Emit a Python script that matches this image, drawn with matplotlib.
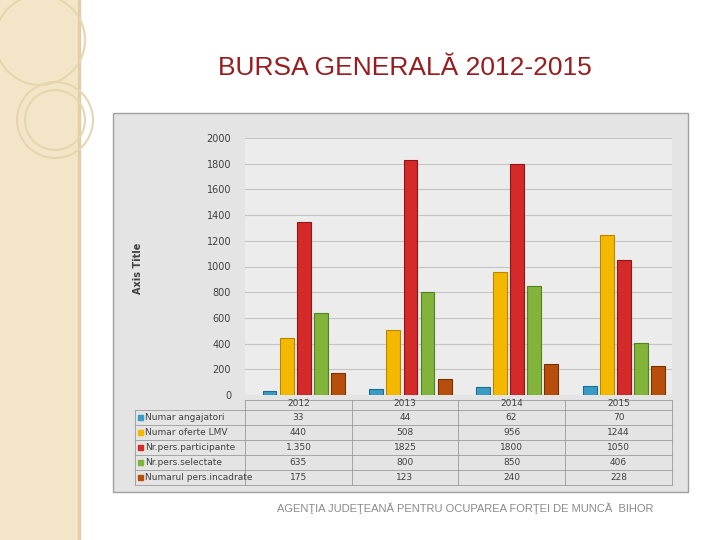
import matplotlib
matplotlib.use("Agg")
import matplotlib.pyplot as plt
from matplotlib.patches import Rectangle, Circle
import numpy as np

years = ["2012", "2013", "2014", "2015"]
series_names = ["Numar angajatori", "Numar oferte LMV", "Nr.pers.participante",
                "Nr.pers.selectate", "Numarul pers.incadrate"]
angajatori = [33, 44, 62, 70]
oferte = [440, 508, 956, 1244]
participante = [1350, 1825, 1800, 1050]
selectate = [635, 800, 850, 406]
incadrate = [175, 123, 240, 228]
table_text = [["33", "44", "62", "70"],
              ["440", "508", "956", "1244"],
              ["1.350", "1825", "1800", "1050"],
              ["635", "800", "850", "406"],
              ["175", "123", "240", "228"]]
series = [angajatori, oferte, participante, selectate, incadrate]
colors = ["#3a9cc4", "#f5b800", "#d42a2a", "#82b33a", "#b84e0c"]
edges = ["#1f6d8c", "#b88600", "#8e1616", "#55801f", "#7a3004"]

W, H = 720, 540
fig = plt.figure(figsize=(7.2, 5.4), dpi=100)
fig.patch.set_facecolor("white")

def fx(x): return x / W
def fy(y): return 1 - y / H

# decorative left strip
bg = fig.add_axes([0, 0, 1, 1]); bg.set_xlim(0, W); bg.set_ylim(H, 0); bg.axis("off")
bg.add_patch(Rectangle((0, 0), 78, H, color="#f3e6c8", zorder=0))
bg.add_patch(Rectangle((78, 0), 1.5, H, color="#e0cfa6", zorder=0))
for (cx, cy, r) in [(40, 40, 45), (55, 120, 38), (55, 120, 30)]:
    bg.add_patch(Circle((cx, cy), r, fill=False, ec="#e6d6b0", lw=1.5))
# chart frame
bg.add_patch(Rectangle((113, 113), 575, 379, fc="#e4e4e4", ec="#a0a0a0", lw=1))
bg.text(405, 68, "BURSA GENERALĂ 2012-2015", ha="center", va="center",
        fontsize=19, color="#9b1b1e", family="Liberation Sans")
bg.text(465, 508, "AGENŢIA JUDEŢEANĂ PENTRU OCUPAREA FORŢEI DE MUNCĂ  BIHOR",
        ha="center", va="center", fontsize=8, color="#8a8a8a", family="Liberation Sans")
bg.text(138, 268, "Axis Title", rotation=90, ha="center", va="center",
        fontsize=7, fontweight="bold", color="#404040")

# plot axes
x0, x1, ytop, ybot = 245, 672, 138, 395
ax = fig.add_axes([fx(x0), fy(ybot), fx(x1 - x0), fy(ytop) - fy(ybot)])
ax.set_facecolor("#ececec")
ax.set_xlim(0, 4); ax.set_ylim(0, 2000)
ax.set_yticks(range(0, 2001, 200))
ax.tick_params(axis="y", labelsize=7, length=0, pad=10, colors="#404040")
ax.set_xticks([])
ax.grid(axis="y", color="#c4c4c4", lw=0.8)
ax.set_axisbelow(True)
for s in ax.spines.values(): s.set_visible(False)
idx = np.arange(4)
for i, (vals, c, e) in enumerate(zip(series, colors, edges)):
    xs = idx + 0.23 + i * 0.16
    ax.bar(xs, vals, width=0.13, color=c, edgecolor=e, lw=0.8, zorder=3)

# table
tb = fig.add_axes([0, 0, 1, 1], zorder=5); tb.set_xlim(0, W); tb.set_ylim(H, 0); tb.axis("off")
cols = [245, 352, 458, 565, 672]
rows = [400, 410, 425, 440, 455, 470, 485]
for x in cols:
    tb.plot([x, x], [rows[0], rows[-1]], color="#9a9a9a", lw=0.6)
tb.plot([135, 135], [rows[1], rows[-1]], color="#9a9a9a", lw=0.6)
for j, y in enumerate(rows):
    tb.plot([135 if j > 0 else 245, 672], [y, y], color="#9a9a9a", lw=0.6)
for k, yr in enumerate(years):
    tb.text((cols[k] + cols[k + 1]) / 2, 404, yr, ha="center", va="center", fontsize=6.5, color="#404040")
for r in range(5):
    yc = (rows[r + 1] + rows[r + 2]) / 2
    tb.add_patch(Rectangle((138, yc - 2.5), 5, 5, color=colors[r]))
    tb.text(145, yc, series_names[r], ha="left", va="center", fontsize=6.5, color="#404040")
    for k in range(4):
        tb.text((cols[k] + cols[k + 1]) / 2, yc, table_text[r][k], ha="center", va="center",
                fontsize=6.5, color="#404040")

fig.savefig("out.png", dpi=100)
